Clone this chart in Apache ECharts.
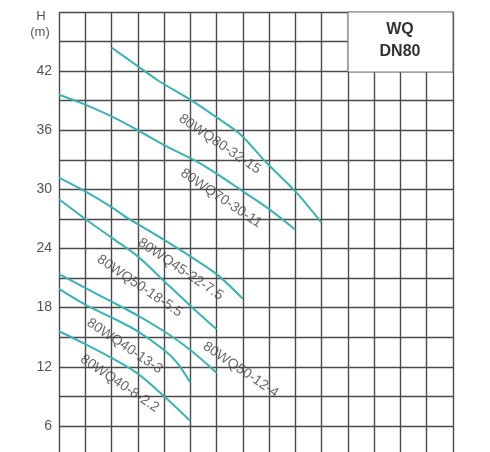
<!DOCTYPE html>
<html>
<head>
<meta charset="utf-8">
<script src="https://cdn.jsdelivr.net/npm/echarts@6/dist/echarts.min.js"></script>
<style>html,body{margin:0;padding:0;background:#fff;overflow:hidden}#c{width:490px;height:486px}</style>
</head>
<body>
<div id="c"></div>
<script>
// Flow Q (m3/h, one grid column = 10) vs head H (m)
var curve_80WQ80_32_15 = [[20,44.4],[30,42.5],[38,41.0],[50,39.1],[60,37.3],[69,35.6],[79,32.7],[90,29.8],[100,26.6]];
var curve_80WQ70_30_11 = [[0,39.6],[10,38.6],[20,37.4],[30,36.0],[40,34.5],[52,32.9],[60,31.6],[70,29.8],[80,28.0],[90,25.9]];
var curve_80WQ45_22_75 = [[0,31.2],[10,29.8],[20,28.2],[26,27.1],[38,25.2],[50,23.2],[60,21.4],[70,18.9]];
var curve_80WQ50_18_55 = [[0,29.0],[10,27.0],[20,25.1],[30,23.2],[40,20.7],[50,18.2],[60,15.8]];
var curve_80WQ50_12_4  = [[0,21.4],[10,20.0],[20,18.6],[30,17.2],[40,15.6],[50,13.7],[60,11.4]];
var curve_80WQ40_13_3  = [[0,19.9],[10,18.3],[20,17.0],[30,15.6],[40,13.7],[45,12.4],[50,10.4]];
var curve_80WQ40_8_22  = [[0,15.6],[10,14.3],[20,12.9],[30,11.3],[40,9.0],[50,6.5]];

var curveNames = ['80WQ80-32-15','80WQ70-30-11','80WQ45-22-7.5','80WQ50-18-5.5','80WQ50-12-4','80WQ40-13-3','80WQ40-8-2.2'];
var curveData = [curve_80WQ80_32_15, curve_80WQ70_30_11, curve_80WQ45_22_75, curve_80WQ50_18_55, curve_80WQ50_12_4, curve_80WQ40_13_3, curve_80WQ40_8_22];
// label anchor points (Q, H) for each curve name
var labelAnchors = [[61.2,34.6],[61.7,29.1],[46.3,21.9],[30.7,20.2],[69.2,11.7],[25.0,14.1],[23.1,10.3]];
var yTickLabels = [6,12,18,24,30,36,42];
var titleLines = ['WQ','DN80'];

var chart = echarts.init(document.getElementById('c'));
var gridColor = '#4a4a4a';
var font = 'Liberation Sans, Arial, sans-serif';
var series = curveData.map(function(d, i){
  return {
    type:'line', name: curveNames[i], data: d, smooth: 0.3, symbol:'none',
    lineStyle:{color:'#3fb0b0', width:2}, z:3, silent:true
  };
});
series.push({
  type:'scatter', symbolSize:0, silent:true, z:4,
  data: labelAnchors.map(function(p,i){ return {value:p, name:curveNames[i]}; }),
  label:{show:true, position:'inside', formatter:'{b}', rotate:-34,
    fontFamily:font, fontSize:14, color:'#444'}
});

chart.setOption({
  animation:false,
  grid:{left:59, right:37, top:12, bottom:1, containLabel:false},
  xAxis:{type:'value', min:0, max:150, interval:10,
    axisLine:{show:false}, axisTick:{show:false}, axisLabel:{show:false},
    splitLine:{show:true, lineStyle:{color:gridColor, width:1.4}}},
  yAxis:{type:'value', min:0, max:48, interval:3,
    axisLine:{show:false}, axisTick:{show:false},
    axisLabel:{margin:7, fontSize:14, color:'#555', fontFamily:font,
      formatter:function(v){ return yTickLabels.indexOf(v) >= 0 ? String(v) : ''; }},
    splitLine:{show:true, lineStyle:{color:gridColor, width:1.4}}},
  graphic:[
    {type:'rect', shape:{x:348, y:12, width:105, height:60}, style:{fill:'#fff', stroke:'#777', lineWidth:1.2}, z:10},
    {type:'text', x:400, y:30, style:{text:titleLines[0], fontSize:16, fontWeight:'bold', fill:'#333', align:'center', verticalAlign:'middle', fontFamily:font}, z:11},
    {type:'text', x:400, y:52, style:{text:titleLines[1], fontSize:16, fontWeight:'bold', fill:'#333', align:'center', verticalAlign:'middle', fontFamily:font}, z:11},
    {type:'text', x:41, y:16, style:{text:'H', fontSize:13, fill:'#555', align:'center', verticalAlign:'middle', fontFamily:font}},
    {type:'text', x:40, y:32, style:{text:'(m)', fontSize:13, fill:'#555', align:'center', verticalAlign:'middle', fontFamily:font}}
  ],
  series: series
});
</script>
</body>
</html>
